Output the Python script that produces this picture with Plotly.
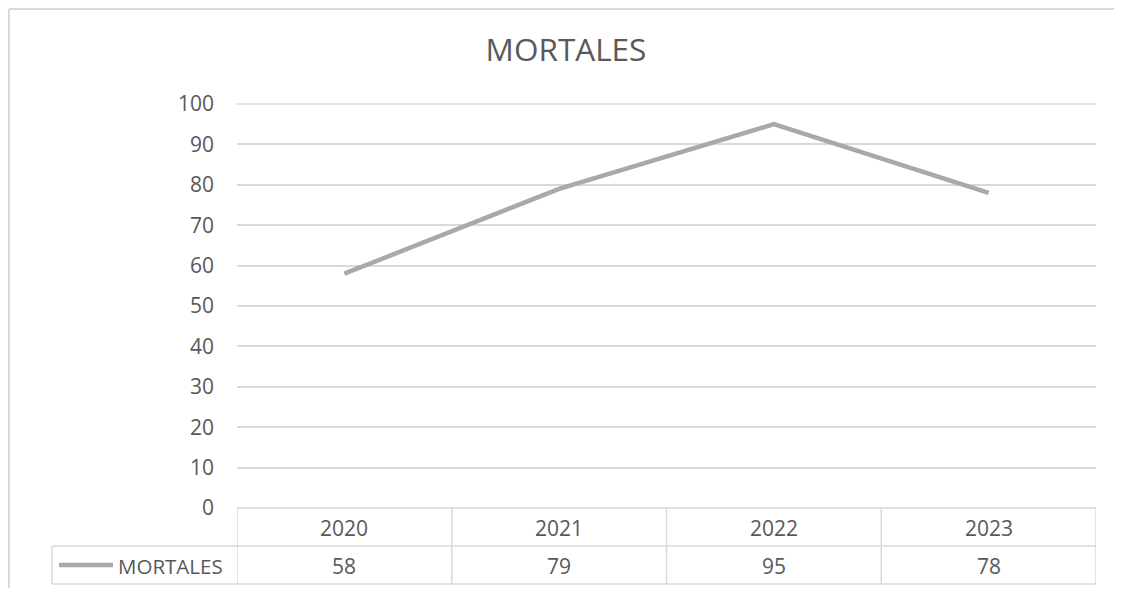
import plotly.graph_objects as go

# data
years = ["2020", "2021", "2022", "2023"]
mortales = [58, 79, 95, 78]
series_name = "MORTALES"
title = "MORTALES"

# the page body has an 8px margin on each side: keep the figure inside it
OFF = 8
W, H = 1122 - 2 * OFF, 596 - 2 * OFF
L, R, T, B = 237 - OFF, 1096 - OFF, 104 - OFF, 508 - OFF  # plot area

line_color = "#aca8a8"
grid_color = "#d9d9d9"
text_color = "#595959"
font = "Open Sans"


def px_x(px):
    return (px - OFF - L) / (R - L)


def px_y(py):
    return (B - (py - OFF)) / (B - T)


fig = go.Figure()
fig.add_trace(go.Scatter(
    x=years, y=mortales, mode="lines", name=series_name,
    line=dict(color=line_color, width=4.5), showlegend=False,
))

# data table below the plot
shapes = []
grid = dict(color=grid_color, width=1.5)
row_mid, row_bot = px_y(546), px_y(584)
tbl_left = px_x(52)
for k in range(len(years) + 1):
    shapes.append(dict(type="line", xref="x", yref="paper",
                       x0=k - 0.5, x1=k - 0.5, y0=0, y1=row_bot, line=grid))
for yy, x0 in [(1, 0), (0, 0), (row_mid, tbl_left), (row_bot, tbl_left)]:
    shapes.append(dict(type="line", xref="paper", yref="paper", x0=x0,
                       x1=1, y0=yy, y1=yy, line=grid))
shapes.append(dict(type="line", xref="paper", yref="paper", x0=tbl_left,
                   x1=tbl_left, y0=row_mid, y1=row_bot, line=grid))
# legend key
shapes.append(dict(type="line", xref="paper", yref="paper", x0=px_x(59),
                   x1=px_x(113), y0=px_y(565), y1=px_y(565),
                   line=dict(color=line_color, width=4.5)))
# chart border: only top and left edges are in view
border = dict(color=grid_color, width=2)
shapes.append(dict(type="line", xref="paper", yref="paper", x0=px_x(9),
                   x1=px_x(1130), y0=px_y(9), y1=px_y(9), line=border))
shapes.append(dict(type="line", xref="paper", yref="paper", x0=px_x(9),
                   x1=px_x(9), y0=px_y(9), y1=px_y(610), line=border))

tfont = dict(size=21, color=text_color, family=font)
annotations = []
for k, (yr, v) in enumerate(zip(years, mortales)):
    annotations.append(dict(x=k, y=px_y(528), xref="x", yref="paper",
                            text=yr, showarrow=False, yanchor="middle",
                            font=tfont))
    annotations.append(dict(x=k, y=px_y(566), xref="x", yref="paper",
                            text=str(v), showarrow=False, yanchor="middle",
                            font=tfont))
annotations.append(dict(x=px_x(116), y=px_y(566), xref="paper", yref="paper",
                        text=series_name, showarrow=False, xanchor="left",
                        yanchor="middle",
                        font=dict(size=20.5, color=text_color, family=font)))

fig.update_layout(
    width=W, height=H,
    margin=dict(l=L, r=W - R, t=T, b=H - B, pad=0),
    paper_bgcolor="white", plot_bgcolor="white",
    title=dict(text=title, x=(566 - OFF) / W, xanchor="center",
               y=1 - (50 - OFF) / H, yanchor="middle",
               font=dict(size=31.5, color=text_color, family=font)),
    xaxis=dict(type="category", range=[-0.5, 3.5], showticklabels=False,
               showgrid=False, zeroline=False, showline=False),
    yaxis=dict(range=[0, 100], dtick=10, showgrid=True, gridcolor=grid_color,
               gridwidth=1.5, zeroline=False, showline=False, ticks="",
               ticklabelstandoff=22,
               tickfont=dict(size=21, color=text_color, family=font)),
    shapes=shapes, annotations=annotations,
)

fig.write_html("out.html")
